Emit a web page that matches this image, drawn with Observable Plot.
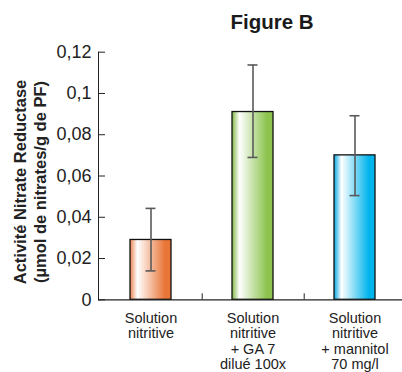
<!DOCTYPE html>
<html>
<head>
<meta charset="utf-8">
<script src="https://cdn.jsdelivr.net/npm/d3@7"></script>
<script src="https://cdn.jsdelivr.net/npm/@observablehq/plot@0.6"></script>
<style>
  body { margin: 0; background: #fff; font-family: "Liberation Sans", Arial, sans-serif; }
  #title { width: 260px; margin-left: 142px; height: 28px; padding-top: 12px; text-align: center;
           font: bold 20.5px "Liberation Sans", Arial, sans-serif; line-height: 20px; color: #1a1a1a; }
</style>
</head>
<body>
<div id="title">Figure B</div>
<div id="chart"></div>
<script>
const categories = ["Solution\nnitritive", "Solution\nnitritive\n+ GA 7\ndilué 100x", "Solution\nnitritive\n+ mannitol\n70 mg/l"];
const values = [0.029, 0.091, 0.070];
const errLow = [0.014, 0.069, 0.0505];
const errHigh = [0.0443, 0.1138, 0.0892];
const yTicks = [0, 0.02, 0.04, 0.06, 0.08, 0.1, 0.12];
const yLabel = "Activité Nitrate Reductase\n(µmol de nitrates/g de PF)";
const gradients = [
  ["#ec8450", "#ffffff", "#e97638"],
  ["#7fb845", "#ffffff", "#8cc44f"],
  ["#00a6e2", "#ffffff", "#00b4ec"]
];

const data = categories.map((c, i) => ({cat: c, v: values[i], lo: errLow[i], hi: errHigh[i]}));

const W = 402, H = 332, ML = 98, MR = 0, MT = 11.7, MB = 72.7;

function defsMark() {
  const ns = "http://www.w3.org/2000/svg";
  const defs = document.createElementNS(ns, "defs");
  gradients.forEach((g, i) => {
    const lg = document.createElementNS(ns, "linearGradient");
    lg.setAttribute("id", "grad" + i);
    lg.setAttribute("x1", "0"); lg.setAttribute("x2", "1");
    lg.setAttribute("y1", "0"); lg.setAttribute("y2", "0");
    [[0, g[0]], [0.18, g[1]], [0.85, g[2]], [1, g[2]]].forEach(([o, c]) => {
      const s = document.createElementNS(ns, "stop");
      s.setAttribute("offset", o);
      s.setAttribute("stop-color", c);
      lg.appendChild(s);
    });
    defs.appendChild(lg);
  });
  return defs;
}

const barMarks = data.map((d, i) =>
  Plot.barY([d], {x: "cat", y: "v", fill: `url(#grad${i})`, stroke: "#111", strokeWidth: 1.3})
);

const plot = Plot.plot({
  width: W, height: H,
  marginLeft: ML, marginRight: MR, marginTop: MT, marginBottom: MB,
  style: {fontFamily: "'Liberation Sans', Arial, sans-serif", color: "#222", background: "#fff"},
  x: {domain: categories, range: [98.5, 406], paddingInner: 0.6, paddingOuter: 0.3, label: null},
  y: {domain: [0, 0.12], label: null},
  marks: [
    defsMark,
    ...barMarks,
    Plot.ruleX(data, {x: "cat", y1: "lo", y2: "hi", stroke: "#5a5a5a", strokeWidth: 1.6}),
    Plot.tickY(data, {x: "cat", y: "lo", stroke: "#5a5a5a", strokeWidth: 1.6, insetLeft: 15.5, insetRight: 15.5}),
    Plot.tickY(data, {x: "cat", y: "hi", stroke: "#5a5a5a", strokeWidth: 1.6, insetLeft: 15.5, insetRight: 15.5}),
    Plot.tickY(yTicks, {y: d => d, stroke: "#222", strokeWidth: 1, insetRight: (W - ML - MR) - 7}),
    Plot.ruleX(categories.slice(0, 2), {dx: 51.2, stroke: "#222", strokeWidth: 1, insetTop: (H - MT - MB) - 6}),
    Plot.axisY({ticks: yTicks, tickSize: 0, tickPadding: 7, fontSize: 18, tickFormat: d => String(d).replace(".", ","), label: null}),
    Plot.axisX({tickSize: 0, tickPadding: 12.5, fontSize: 14.5, lineHeight: 1.05, label: null}),
    Plot.frame({anchor: "left", stroke: "#222", strokeWidth: 1}),
    Plot.ruleY([0], {stroke: "#222", strokeWidth: 1.2}),
    Plot.text([yLabel], {frameAnchor: "left", textAnchor: "middle", lineAnchor: "middle", rotate: -90, dx: -69, dy: 6, fontWeight: "bold", fontSize: 16.5, lineHeight: 1.2, fill: "#222"})
  ]
});
document.getElementById("chart").appendChild(plot);
</script>
</body>
</html>
